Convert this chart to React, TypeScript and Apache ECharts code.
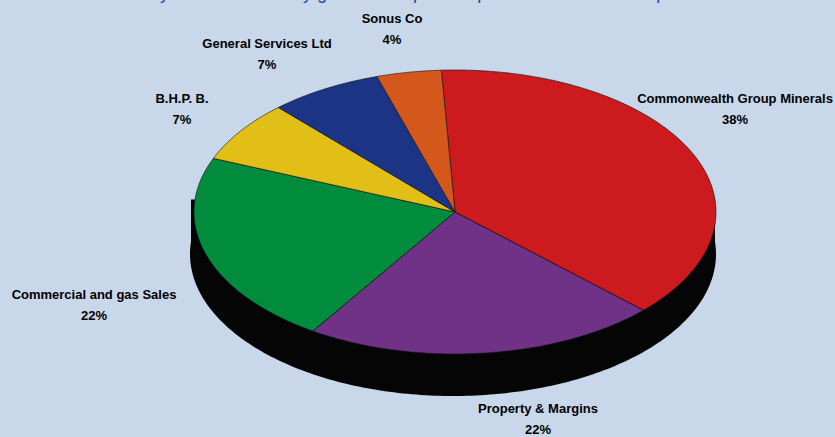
import React, { useEffect, useRef } from "react";
import * as echarts from "echarts";

const categories = [
  "Commonwealth Group Minerals",
  "Property & Margins",
  "Commercial and gas Sales",
  "B.H.P. B.",
  "General Services Ltd",
  "Sonus Co",
];
const shares = [38, 22, 22, 7, 7, 4];
const percentLabels = ["38%", "22%", "22%", "7%", "7%", "4%"];
const colors = ["#cc1a1f", "#6f3287", "#008c3c", "#e2bf17", "#1b3486", "#d4571b"];
const labelAnchors = [
  [735, 109],
  [538, 419],
  [94, 305],
  [182, 109],
  [267, 54],
  [392, 29],
];
const heading = "Industry market shares by gross sales profit in period ended 30 June pre-tax";

const CX = 455;
const CY = 212;
const RX = 261;
const RY = 142;
const DEPTH = 42;
const START = -3;
const WALL_CX = 453;
const WALL_RX = 263;
const total = shares.reduce((a, b) => a + b, 0);

// Point on a tilted ellipse, angle in degrees clockwise from twelve o'clock.
const rimPoint = (deg: number, drop = 0, cx = CX, rx = RX) => {
  const t = (deg * Math.PI) / 180;
  return [cx + rx * Math.sin(t), CY - RY * Math.cos(t) + drop];
};

const arcPoints = (from: number, to: number, drop = 0, cx = CX, rx = RX) => {
  const pts: number[][] = [];
  const steps = Math.max(2, Math.ceil(Math.abs(to - from)));
  for (let i = 0; i <= steps; i++) pts.push(rimPoint(from + ((to - from) * i) / steps, drop, cx, rx));
  return pts;
};

const sliceBounds = (index: number) => {
  const before = shares.slice(0, index).reduce((a, b) => a + b, 0);
  const from = START + (before / total) * 360;
  return [from, from + (shares[index] / total) * 360];
};

export default function App() {
  const ref = useRef<HTMLDivElement>(null);

  useEffect(() => {
    const chart = echarts.init(ref.current!, undefined, { renderer: "svg" });
    chart.setOption({
      animation: false,
      backgroundColor: "#c8d7ea",
      title: {
        text: heading,
        left: 100,
        top: -21,
        textStyle: { color: "#1c4fa0", fontSize: 18, fontWeight: "normal", fontFamily: "Liberation Sans" },
      },
      xAxis: { show: false, min: 0, max: 835 },
      yAxis: { show: false, min: 0, max: 437 },
      grid: { left: 0, right: 0, top: 0, bottom: 0 },
      series: [
        {
          // Black solid under the disc: lower rim, closed across the disc's width
          type: "custom",
          coordinateSystem: "none",
          silent: true,
          data: [0],
          renderItem: () => ({
            type: "polygon",
            shape: {
              points: [
                ...arcPoints(275, 85, DEPTH, WALL_CX, WALL_RX),
                rimPoint(85, 0, WALL_CX, WALL_RX),
                rimPoint(275, 0, WALL_CX, WALL_RX),
              ],
            },
            style: { fill: "#050505" },
          }),
        },
        {
          type: "custom",
          coordinateSystem: "none",
          silent: true,
          data: shares.map((v, i) => [i, v]),
          renderItem: (_: unknown, api: any) => {
            const i = api.value(0);
            const [from, to] = sliceBounds(i);
            return {
              type: "polygon",
              shape: { points: [[CX, CY], ...arcPoints(from, to)] },
              style: { fill: colors[i], stroke: "#111", lineWidth: 0.6 },
            };
          },
        },
        {
          type: "custom",
          coordinateSystem: "none",
          silent: true,
          data: categories.map((_, i) => [i]),
          renderItem: (_: unknown, api: any) => {
            const i = api.value(0);
            const [x, y] = labelAnchors[i];
            return {
              type: "text",
              style: {
                x,
                y,
                text: `${categories[i]}\n${percentLabels[i]}`,
                fill: "#000",
                align: "center",
                verticalAlign: "middle",
                font: "bold 13px 'Liberation Sans'",
                lineHeight: 21,
              },
            };
          },
        },
      ],
    });
    return () => chart.dispose();
  }, []);

  return <div ref={ref} style={{ position: "absolute", left: 0, top: 0, width: 835, height: 437 }} />;
}
